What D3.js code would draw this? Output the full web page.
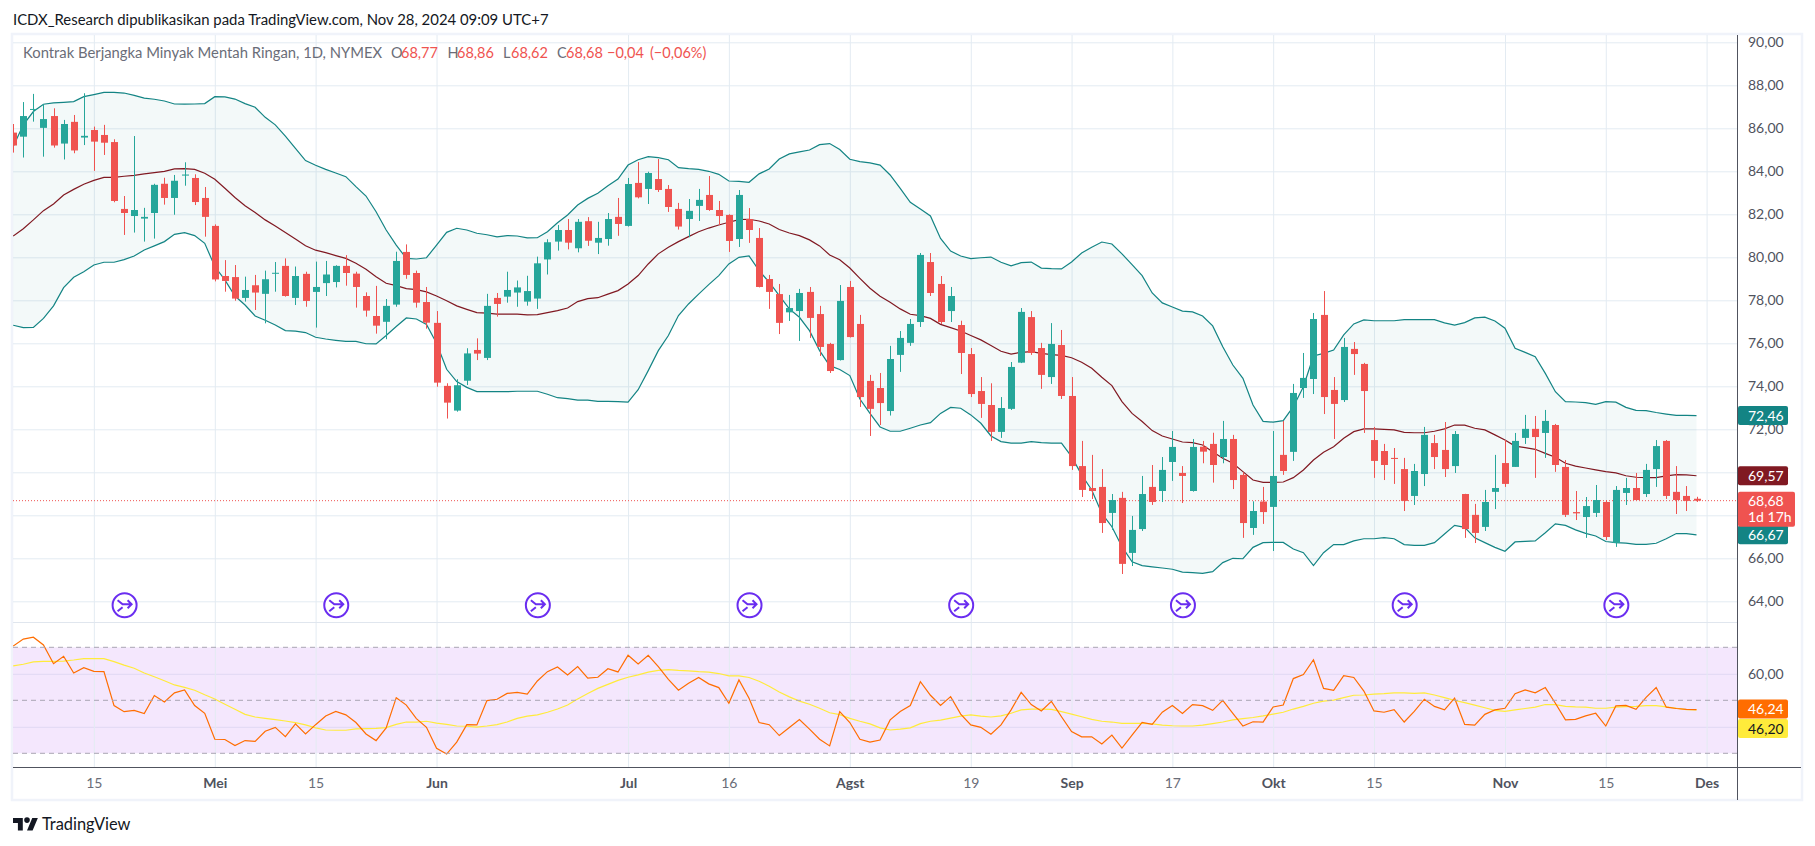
<!DOCTYPE html>
<html><head><meta charset="utf-8">
<script src="https://cdn.jsdelivr.net/npm/d3@7/dist/d3.min.js"></script>
<style>html,body{margin:0;padding:0;background:#fff}svg{display:block}text{font-family:Lato,"Noto Sans",sans-serif}</style>
</head><body><svg id="c" width="1815" height="846"></svg>
<script>
const opens=[85.8,85.61,86.87,86.02,86.57,85.29,86.3,85.57,85.92,85.69,85.36,82.25,81.92,81.8,82.06,83.42,82.76,83.8,83.69,82.76,81.46,79.13,79.08,78.11,78.7,78.3,79.24,79.6,78.11,79.23,78.39,78.8,78.85,79.6,79.24,78.2,77.27,77.0,77.8,80.25,79.27,77.92,76.95,74.02,72.87,74.26,75.69,75.32,78.11,78.17,78.36,77.94,78.08,79.9,80.73,81.27,80.42,81.68,80.68,80.85,81.88,81.46,83.46,83.18,83.64,83.18,82.25,81.78,82.39,82.9,82.2,81.97,80.85,81.78,80.9,78.99,78.29,77.44,77.5,78.39,77.36,75.97,75.22,78.62,76.9,74.25,73.92,72.85,75.46,76.02,76.99,79.78,78.76,77.5,76.85,75.5,73.78,73.13,71.88,72.95,75.1,77.22,75.78,74.43,75.92,73.55,70.29,69.27,69.32,68.11,68.81,66.25,67.36,69.32,69.13,70.48,69.97,69.13,71.19,71.32,70.71,71.55,69.88,67.41,68.64,68.39,70.81,70.95,73.92,74.34,77.32,73.83,73.36,75.74,75.04,71.5,70.99,70.67,70.15,68.9,69.92,71.36,71.04,70.29,68.99,68.02,67.46,69.09,70.43,70.25,71.6,72.02,71.83,72.2,70.25,68.15,67.92,68.11,68.62,66.71,69.04,69.27,68.99,70.15,71.46,69.09,68.9,68.77];
const highs=[86.2,87.22,87.6,87.12,86.93,86.39,86.62,87.63,86.08,86.16,85.49,82.85,85.64,82.3,83.42,83.7,83.83,84.42,83.86,83.27,81.53,79.87,79.64,79.1,79.18,79.38,79.78,79.95,79.57,79.33,79.8,79.83,79.63,80.1,79.33,78.37,78.67,78.06,80.26,80.6,79.38,78.62,77.5,74.14,74.33,75.77,76.23,78.3,78.34,79.33,78.92,79.14,80.03,80.84,81.5,81.78,81.78,81.87,81.65,82.06,82.76,83.69,84.43,83.98,84.57,83.36,82.53,82.71,83.18,83.78,82.62,82.0,83.13,82.29,81.36,79.18,78.76,78.25,78.53,78.62,77.74,76.02,78.71,78.9,77.32,74.53,74.62,75.88,76.57,77.13,80.2,80.2,79.13,78.62,77.05,75.78,74.43,74.14,73.5,75.13,77.64,77.5,76.02,76.94,76.62,74.43,71.46,70.81,70.15,68.99,69.09,67.97,69.83,70.34,70.71,71.92,70.29,71.55,71.46,71.84,72.39,71.74,70.0,68.65,69.32,71.92,72.39,74.11,75.55,77.41,78.43,74.43,76.25,76.06,75.09,72.11,71.32,71.13,70.67,70.39,72.11,71.74,72.34,71.92,69.0,68.53,69.18,70.81,71.5,71.83,72.67,72.62,72.9,72.25,70.57,69.13,68.85,69.41,68.71,69.36,69.74,69.97,70.39,71.5,71.5,70.29,69.36,68.86];
const lows=[84.87,84.64,86.31,84.68,85.1,84.55,84.84,85.22,84.02,84.76,82.56,81.04,81.15,80.73,80.87,82.45,81.98,83.33,82.43,80.96,78.88,78.4,77.98,77.94,77.55,76.93,78.4,78.17,77.78,77.7,76.73,78.2,78.6,78.68,77.66,77.24,76.45,76.19,77.7,79.0,77.66,76.68,73.98,72.5,72.82,74.06,75.22,75.22,77.24,77.89,77.7,77.75,77.6,79.2,80.31,80.37,80.23,80.53,80.15,80.54,81.0,81.43,82.74,82.48,83.04,82.11,81.29,80.93,81.69,82.16,81.5,80.25,80.48,80.67,78.6,77.6,76.43,77.04,76.11,76.25,75.41,74.62,75.2,76.27,73.04,71.69,72.2,72.64,74.67,75.88,76.76,78.2,76.9,76.99,74.57,73.5,72.53,71.46,71.6,72.9,75.08,75.46,73.88,74.11,73.41,70.11,68.85,68.76,67.18,67.32,65.27,65.64,67.27,68.48,68.62,69.6,68.57,69.1,70.42,69.52,70.42,69.22,66.95,67.09,67.6,66.34,69.88,70.53,73.46,73.64,72.71,71.55,73.27,74.53,71.83,69.74,69.64,69.46,68.2,68.48,69.36,70.15,69.78,69.97,66.95,66.71,67.27,68.29,69.32,70.25,71.32,69.74,70.67,70.02,67.92,67.78,66.95,67.92,66.85,66.53,68.48,68.71,68.85,69.32,68.76,68.06,68.2,68.62];
const closes=[85.2,86.57,86.9,86.43,85.2,86.2,84.97,85.65,85.38,85.33,82.62,82.06,82.2,81.88,83.37,82.76,83.56,83.85,82.57,81.88,78.97,78.9,78.08,78.48,78.36,78.98,79.28,78.2,79.13,77.97,78.62,79.2,79.6,79.27,78.62,77.52,76.82,77.74,79.83,79.18,77.89,76.96,74.17,73.24,74.05,75.53,75.52,77.74,77.83,78.48,78.6,78.43,79.72,80.7,81.27,80.68,81.65,80.77,80.9,81.78,81.55,83.41,82.79,83.92,83.13,82.34,81.43,82.16,82.67,82.2,81.92,80.76,82.9,81.27,78.62,78.39,76.95,77.64,78.34,77.18,75.83,74.71,77.97,76.29,73.5,72.95,73.22,75.27,76.25,76.9,80.11,78.34,76.99,78.2,75.55,73.64,73.18,71.88,72.99,74.9,77.46,75.55,74.53,75.97,73.55,70.29,69.18,69.13,67.64,68.71,65.74,67.32,68.99,68.62,70.11,71.18,69.83,71.18,70.96,70.34,71.55,69.64,67.64,68.2,68.15,69.83,70.06,73.69,74.39,77.13,73.5,73.18,75.83,75.5,73.78,70.53,70.34,70.62,68.67,70.06,71.74,70.71,70.15,71.78,67.36,67.18,68.62,69.27,69.46,71.46,72.02,71.64,72.39,70.34,68.02,68.09,68.43,68.71,66.99,69.18,69.27,68.71,70.11,71.22,68.9,68.71,68.67,68.68];
const bbUpper=[85.15,86.16,86.78,87.12,87.18,87.21,87.24,87.47,87.57,87.67,87.67,87.64,87.53,87.4,87.35,87.27,87.13,87.12,87.13,87.15,87.47,87.46,87.36,87.15,86.98,86.51,86.16,85.64,85.07,84.5,84.28,84.09,83.92,83.75,83.29,82.85,82.12,81.27,80.57,79.95,79.92,79.98,80.57,81.16,81.35,81.27,81.12,81.05,80.95,81.01,80.99,80.9,80.91,81.19,81.61,81.97,82.43,82.74,82.98,83.33,83.64,84.29,84.54,84.68,84.64,84.54,84.17,84.12,84.09,84.0,83.86,83.55,83.53,83.49,83.88,84.11,84.57,84.81,84.9,84.99,85.24,85.29,85.01,84.56,84.45,84.39,84.29,83.83,83.21,82.56,82.25,81.92,80.88,80.29,80.06,79.94,79.98,80.01,79.77,79.6,79.75,79.78,79.5,79.47,79.46,79.78,80.2,80.47,80.71,80.62,80.16,79.66,79.15,78.34,77.88,77.69,77.5,77.46,77.27,76.81,75.84,74.99,74.37,73.13,72.37,72.33,72.4,73.05,73.98,75.41,75.53,75.69,76.39,76.9,77.09,77.05,77.05,77.05,77.1,77.1,77.1,77.1,76.95,76.85,76.96,77.18,77.22,77.04,76.7,75.77,75.58,75.38,74.6,73.75,73.29,73.27,73.24,73.16,73.29,73.26,73.02,72.88,72.87,72.78,72.71,72.65,72.65,72.64];
const bbBasis=[80.99,81.33,81.74,82.17,82.48,82.9,83.16,83.4,83.58,83.72,83.72,83.77,83.81,83.88,83.94,84.0,84.11,84.12,84.09,83.91,83.63,83.21,82.78,82.4,82.08,81.74,81.46,81.15,80.85,80.54,80.33,80.22,80.08,79.95,79.72,79.44,79.1,78.79,78.68,78.54,78.5,78.39,78.2,77.98,77.74,77.58,77.43,77.4,77.36,77.36,77.36,77.32,77.33,77.43,77.52,77.64,77.94,78.08,78.12,78.29,78.45,78.76,79.15,79.69,80.16,80.47,80.73,80.96,81.19,81.36,81.5,81.63,81.75,81.77,81.69,81.55,81.29,81.13,81.01,80.81,80.53,80.11,79.89,79.5,79.02,78.56,78.19,77.91,77.6,77.35,77.29,77.16,76.88,76.73,76.57,76.36,76.16,75.9,75.63,75.5,75.58,75.61,75.53,75.47,75.44,75.33,75.12,74.84,74.42,74.03,73.29,72.74,72.36,71.94,71.69,71.55,71.41,71.38,71.27,70.96,70.65,70.42,70.03,69.64,69.53,69.53,69.55,69.75,70.11,70.57,70.93,71.19,71.58,71.89,72.02,72.02,72.0,71.97,71.86,71.84,71.84,71.91,72.02,72.2,72.19,72.05,71.97,71.74,71.5,71.22,71.15,71.07,70.88,70.7,70.42,70.29,70.2,70.11,70.03,69.97,69.84,69.77,69.75,69.75,69.83,69.89,69.88,69.84];
const bbLower=[76.84,76.73,76.74,77.16,77.74,78.59,79.07,79.33,79.64,79.77,79.77,79.89,80.06,80.34,80.53,80.73,81.07,81.15,81.01,80.65,79.57,78.95,78.2,77.78,77.27,77.07,76.85,76.59,76.57,76.5,76.28,76.2,76.14,76.09,76.09,75.98,75.97,76.36,76.78,77.18,77.13,76.88,76.0,74.79,74.22,73.95,73.75,73.75,73.75,73.75,73.77,73.77,73.77,73.63,73.47,73.43,73.36,73.36,73.3,73.3,73.29,73.26,73.84,74.73,75.66,76.36,77.29,77.83,78.29,78.73,79.15,79.69,80.0,80.06,79.38,78.84,78.22,77.6,77.21,76.59,75.66,74.96,74.78,74.5,73.41,72.74,72.11,71.91,71.91,72.05,72.2,72.31,72.74,73.02,72.98,72.67,72.28,71.69,71.43,71.36,71.36,71.43,71.38,71.36,71.36,70.73,69.88,69.18,68.09,67.47,66.54,65.84,65.66,65.6,65.55,65.49,65.36,65.33,65.3,65.38,65.8,66.0,65.98,66.51,66.73,66.74,66.74,66.43,66.26,65.66,66.26,66.64,66.64,66.81,66.91,66.91,66.96,66.91,66.64,66.6,66.6,66.73,67.13,67.53,67.44,66.95,66.73,66.51,66.33,66.76,66.79,66.81,67.19,67.6,67.53,67.32,67.16,67.04,66.78,66.73,66.71,66.65,66.65,66.7,66.91,67.15,67.15,67.09];
const rsi=[70.5,73.1,73.8,70.9,63.8,66.6,60.3,62.3,60.9,60.8,48.0,45.7,46.2,45.0,51.8,49.4,52.8,53.9,48.0,45.1,35.3,35.2,32.9,34.8,34.5,38.3,39.8,36.3,41.1,37.3,40.8,44.1,45.8,44.5,41.6,37.3,34.8,39.6,51.0,48.2,43.1,39.8,31.9,29.7,34.2,40.8,40.7,49.9,50.4,52.6,53.0,52.3,57.3,60.8,62.6,59.6,62.7,58.4,58.7,61.9,60.7,67.0,63.7,67.0,62.7,57.9,53.8,56.4,58.6,56.2,54.8,48.9,57.7,50.8,41.6,40.8,36.7,39.7,42.7,39.1,35.3,32.8,45.7,41.6,35.3,34.2,35.0,42.6,45.8,48.0,57.0,51.9,48.1,51.4,44.8,40.7,39.8,37.2,40.7,46.4,53.0,48.4,46.0,49.6,43.8,38.2,36.2,36.2,33.5,36.9,32.0,36.9,41.7,40.9,45.5,48.0,45.0,48.4,48.0,46.2,50.0,45.1,40.3,41.9,41.8,47.5,48.2,58.2,59.7,65.3,54.5,53.8,59.3,58.6,53.5,46.0,45.5,46.5,41.8,45.8,50.4,47.7,46.4,50.8,40.9,40.6,44.7,46.4,47.0,52.5,53.9,52.8,54.8,48.9,42.6,42.8,44.1,45.1,40.3,47.9,48.1,46.6,51.1,54.8,47.4,46.9,46.6,46.5];
const rsiMA=[63.0,63.6,64.5,64.7,64.7,64.8,65.2,65.7,65.7,65.7,64.6,63.3,62.1,60.3,58.9,57.4,55.8,54.9,53.8,52.1,50.5,48.5,46.6,44.7,43.7,43.2,42.7,42.2,41.6,40.7,39.6,38.8,38.7,38.7,39.2,39.3,39.4,39.7,40.9,41.8,41.8,42.1,41.4,40.9,40.3,40.2,39.9,40.3,40.8,41.8,43.2,44.0,44.5,45.5,46.7,48.2,50.5,52.6,54.5,56.0,57.5,58.7,59.6,60.6,61.3,61.6,61.3,61.1,60.8,60.6,60.1,59.2,59.2,58.6,57.2,55.3,53.1,51.3,49.7,48.5,47.0,45.3,44.6,43.2,42.1,41.1,39.6,38.8,39.1,39.6,41.2,42.1,42.5,43.3,44.0,44.5,44.0,43.7,44.1,45.1,46.4,46.7,46.7,46.6,45.7,44.8,43.8,42.8,42.1,41.8,41.3,41.3,41.3,41.1,40.6,40.4,40.3,40.3,40.6,41.2,41.8,42.6,43.1,43.5,44.1,44.8,45.5,46.7,47.7,48.9,49.7,50.1,51.0,51.9,52.0,52.3,52.5,52.8,52.8,52.6,52.8,52.0,51.0,50.0,49.1,48.2,47.2,46.2,45.8,46.4,46.9,47.4,48.4,48.4,47.7,47.5,47.4,47.0,47.0,47.4,47.6,47.7,48.0,48.0,47.5,47.0,46.5,46.4];
const timeTickIndex=[8,20,30,42,61,71,83,95,105,115,125,135,148,158,168];
const timeTickLabels=["15","Mei","15","Jun","Jul","16","Agst","19","Sep","17","Okt","15","Nov","15","Des"];
const monthLabels=["Mei","Jun","Jul","Agst","Sep","Okt","Nov","Des"];
const priceTicks=[90,88,86,84,82,80,78,76,74,72,70,68,66,64];
const priceTickLabels=[90,88,86,84,82,80,78,76,74,72,66,64];
const rsiBands=[70,50,30];
const rsiGrid=[60,40];
const eventIndex=[11,32,52,73,94,116,138,159];
const lastPrice=68.68;
const headline="ICDX_Research dipublikasikan pada TradingView.com, Nov 28, 2024 09:09 UTC+7";
const symbolText="Kontrak Berjangka Minyak Mentah Ringan, 1D, NYMEX";
const ohlcText=[["O","68,77"],["H","68,86"],["L","68,62"],["C","68,68"]];
const changeText=["−0,04","(−0,06%)"];

const svg=d3.select("#c");
const F={l:13,r:1737,t:35,pb:622,b:767,fr:1801,fb:800};
const x=d3.scaleLinear().domain([1,167]).range([23.3,1696.5]);
const y=d3.scaleLinear().domain([64,90]).range([601.3,42.3]);
const yr=d3.scaleLinear().domain([30,70]).range([753.3,647.3]);
const TEAL="#26a69a",RED="#ef5350",GRID="#e3ebf2";

svg.append("defs").append("clipPath").attr("id","plot").append("rect").attr("x",F.l).attr("y",F.t).attr("width",F.r-F.l).attr("height",F.b-F.t);

svg.append("rect").attr("x",12).attr("y",34).attr("width",F.fr-12+1).attr("height",F.fb-34).attr("fill","none").attr("stroke","#f0f3fa").attr("stroke-width",2.5);

svg.append("rect").attr("x",F.l).attr("width",F.r-F.l).attr("y",yr(70)).attr("height",yr(30)-yr(70)).attr("fill","#f4e7fd");

const hGrid=svg.append("g").attr("transform",`translate(${F.l},0)`).call(d3.axisLeft(y).tickValues(priceTicks).tickSize(-(F.r-F.l)).tickFormat(""));
hGrid.select(".domain").remove();hGrid.selectAll("line").attr("stroke",GRID);
const rGrid=svg.append("g").attr("transform",`translate(${F.l},0)`).call(d3.axisLeft(yr).tickValues(rsiGrid).tickSize(-(F.r-F.l)).tickFormat(""));
rGrid.select(".domain").remove();rGrid.selectAll("line").attr("stroke","#e0d9f3");
const vGrid=svg.append("g").attr("transform",`translate(0,${F.t})`).call(d3.axisTop(x).tickValues(timeTickIndex).tickSize(-(F.b-F.t)).tickFormat(""));
vGrid.select(".domain").remove();vGrid.selectAll("line").attr("stroke",GRID);
svg.append("line").attr("x1",F.l).attr("x2",F.r).attr("y1",F.pb+.5).attr("y2",F.pb+.5).attr("stroke","#e0e6ee").attr("stroke-width",1);

const plot=svg.append("g").attr("clip-path","url(#plot)");
const idx=d3.range(opens.length);
plot.append("path").attr("d",d3.area().x(i=>x(i)).y0(i=>y(bbLower[i])).y1(i=>y(bbUpper[i]))(idx)).attr("fill","#138484").attr("fill-opacity",.05);
const line=(arr,sc)=>d3.line().x(i=>x(i)).y(i=>sc(arr[i]))(idx);
plot.append("line").attr("x1",F.l).attr("x2",F.r).attr("y1",y(lastPrice)).attr("y2",y(lastPrice)).attr("stroke",RED).attr("stroke-width",1).attr("stroke-dasharray","1 2");
plot.append("path").attr("d",line(bbUpper,y)).attr("fill","none").attr("stroke","#138484").attr("stroke-width",1.2);
plot.append("path").attr("d",line(bbLower,y)).attr("fill","none").attr("stroke","#138484").attr("stroke-width",1.2);
plot.append("path").attr("d",line(bbBasis,y)).attr("fill","none").attr("stroke","#801922").attr("stroke-width",1.2);
const cg=plot.selectAll("g.k").data(idx).join("g").attr("class","k");
const col=i=>closes[i]>=opens[i]?TEAL:RED;
cg.append("line").attr("x1",i=>Math.round(x(i))+.5).attr("x2",i=>Math.round(x(i))+.5).attr("y1",i=>y(highs[i])).attr("y2",i=>y(lows[i])).attr("stroke",col).attr("stroke-width",1);
cg.append("rect").attr("x",i=>Math.round(x(i))-3).attr("width",7).attr("y",i=>y(Math.max(opens[i],closes[i]))).attr("height",i=>Math.max(1,Math.abs(y(opens[i])-y(closes[i])))).attr("fill",col);
const ev=svg.selectAll("g.ev").data(eventIndex).join("g").attr("class","ev").attr("transform",i=>`translate(${x(i)+.5},605.3)`);
ev.append("circle").attr("r",12).attr("fill","#fff").attr("stroke","#6a2df0").attr("stroke-width",2);
ev.append("path").attr("d","M-7,-5 L-2,-1 H7 M3,-5 L7,-1 L3,3 M-7,6 L-2,2").attr("fill","none").attr("stroke","#6a2df0").attr("stroke-width",2);
rsiBands.forEach(v=>svg.append("line").attr("x1",F.l).attr("x2",F.r).attr("y1",yr(v)).attr("y2",yr(v)).attr("stroke","#a9a6b3").attr("stroke-dasharray","5 4").attr("stroke-width",1));
plot.append("path").attr("d",line(rsiMA,yr)).attr("fill","none").attr("stroke","#ffeb3b").attr("stroke-width",1.2);
plot.append("path").attr("d",line(rsi,yr)).attr("fill","none").attr("stroke","#ff6d00").attr("stroke-width",1.2);

svg.append("line").attr("x1",F.r+.5).attr("x2",F.r+.5).attr("y1",35).attr("y2",F.fb).attr("stroke","#50535e");
svg.append("line").attr("x1",F.l).attr("x2",F.fr).attr("y1",F.b+.5).attr("y2",F.b+.5).attr("stroke","#50535e");
const fmt=d=>d.toFixed(2).replace(".",",");
const pa=svg.append("g").attr("transform",`translate(${F.r},0)`).call(d3.axisRight(y).tickValues(priceTickLabels).tickSize(0).tickPadding(11).tickFormat(fmt));
pa.select(".domain").remove();
const ra=svg.append("g").attr("transform",`translate(${F.r},0)`).call(d3.axisRight(yr).tickValues([60]).tickSize(0).tickPadding(11).tickFormat(fmt));
ra.select(".domain").remove();
svg.selectAll("g.tick text").attr("font-size",14).attr("font-family","Lato").attr("fill","#50535e");
const ta=svg.append("g").attr("transform",`translate(0,${F.b})`).call(d3.axisBottom(x).tickValues(timeTickIndex).tickSize(0).tickPadding(11).tickFormat((d,i)=>timeTickLabels[i]));
ta.select(".domain").remove();
ta.selectAll("text").attr("font-size",14).attr("font-family","Lato").attr("fill",(d,i)=>monthLabels.includes(timeTickLabels[i])?"#50535e":"#6a6d78").attr("font-weight",(d,i)=>monthLabels.includes(timeTickLabels[i])?700:400);

svg.append("text").attr("x",13).attr("y",25).attr("font-size",14.9).attr("fill","#131722").text(headline);
svg.append("text").attr("x",23).attr("y",58).attr("font-size",14.8).attr("fill","#6a6d78").text(symbolText);
const ox=[391,447.4,503,557],vx=[401,457,511,566];
ohlcText.forEach((o,i)=>{svg.append("text").attr("x",ox[i]).attr("y",58).attr("font-size",14.5).attr("fill","#6a6d78").text(o[0]);
 svg.append("text").attr("x",vx[i]).attr("y",58).attr("font-size",14.5).attr("fill",RED).text(o[1]);});
svg.append("text").attr("x",607).attr("y",58).attr("font-size",14.5).attr("fill",RED).text(changeText[0]);
svg.append("text").attr("x",650).attr("y",58).attr("font-size",14.5).attr("fill",RED).text(changeText[1]);

const labels=[
 {t:["72,46"],v:bbUpper[167],sc:y,bg:"#138484",fg:"#fff",w:50,h:19},
 {t:["69,57"],v:bbBasis[167],sc:y,bg:"#801922",fg:"#fff",w:50,h:19},
 {t:["66,67"],v:bbLower[167],sc:y,bg:"#138484",fg:"#fff",w:50,h:19},
 {t:["46,24"],v:rsi[167],sc:yr,bg:"#ff6d00",fg:"#fff",w:50,h:19,dy:-.5},
 {t:["46,20"],v:rsi[167],sc:yr,bg:"#ffeb3b",fg:"#131722",w:50,h:19,dy:19}
];
labels.forEach(l=>{const c=l.sc(l.v)+(l.dy||0);
 svg.append("rect").attr("x",F.r+1).attr("y",c-l.h/2).attr("width",l.w).attr("height",l.h).attr("rx",2).attr("fill",l.bg);
 svg.append("text").attr("x",F.r+11).attr("y",c+5).attr("font-size",14).attr("fill",l.fg).text(l.t[0]);});
const py=y(lastPrice);
svg.append("rect").attr("x",F.r+1).attr("y",py-9).attr("width",57).attr("height",35).attr("rx",2).attr("fill",RED);
svg.append("text").attr("x",F.r+11).attr("y",py+5).attr("font-size",14).attr("fill","#fff").text("68,68");
svg.append("text").attr("x",F.r+11).attr("y",py+21).attr("font-size",14).attr("fill","#fff").text("1d 17h");

const logo=svg.append("g").attr("transform","translate(13,815.2) scale(.7)").attr("fill","#131722");
logo.append("path").attr("d","M14 22H7V11H0V4h14v18zM28 22h-8l7.5-18h8L28 22z");
logo.append("circle").attr("cx",20).attr("cy",7).attr("r",4);
svg.append("text").attr("x",42).attr("y",830).attr("font-size",16.4).attr("fill","#131722").text("TradingView");
</script></body></html>
